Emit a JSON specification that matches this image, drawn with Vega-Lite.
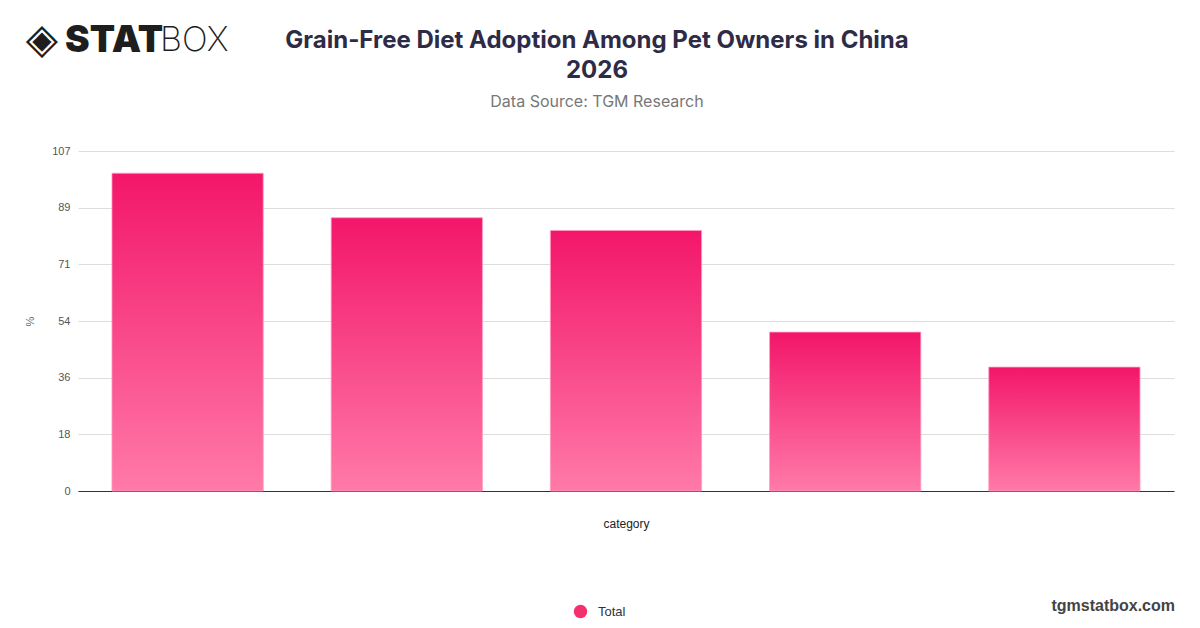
{
  "$schema": "https://vega.github.io/schema/vega-lite/v6.json",
  "width": 1096,
  "height": 340,
  "autosize": {"type": "none"},
  "padding": {"left": 78, "top": 151, "right": 26, "bottom": 137},
  "background": "white",
  "title": {
    "text": ["Grain-Free Diet Adoption Among Pet Owners in China", "2026"],
    "subtitle": "Data Source: TGM Research",
    "anchor": "middle",
    "dx": -29,
    "offset": -91,
    "font": "Inter",
    "fontSize": 24,
    "fontWeight": "bold",
    "color": "#2e2b47",
    "lineHeight": 30,
    "subtitleFont": "Inter",
    "subtitleFontSize": 16,
    "subtitleColor": "#777777",
    "subtitlePadding": 11
  },
  "config": {"view": {"stroke": null}},
  "data": {
    "values": [
      {"category": "Category 1", "value": 100},
      {"category": "Category 2", "value": 86},
      {"category": "Category 3", "value": 82},
      {"category": "Category 4", "value": 50},
      {"category": "Category 5", "value": 39}
    ]
  },
  "layer": [
    {
      "mark": {
        "type": "bar",
        "fill": {
          "gradient": "linear",
          "x1": 0, "y1": 0, "x2": 0, "y2": 1,
          "stops": [
            {"offset": 0, "color": "#f3166a"},
            {"offset": 1, "color": "#ff7aa8"}
          ]
        },
        "stroke": "#ff9cc0",
        "strokeWidth": 0.8
      },
      "encoding": {
        "x": {
          "field": "category",
          "type": "nominal",
          "sort": null,
          "title": "category",
          "scale": {"paddingInner": 0.31, "paddingOuter": 0.155},
          "axis": {
            "labels": false,
            "ticks": false,
            "domainColor": "#333333",
            "titlePadding": 27,
            "titleFont": "Liberation Sans",
            "titleFontSize": 12,
            "titleFontWeight": "normal",
            "titleColor": "#222222"
          }
        },
        "y": {
          "field": "value",
          "type": "quantitative",
          "title": "%",
          "scale": {"domain": [0, 107], "nice": false},
          "axis": {
            "values": [0, 17.833, 35.667, 53.5, 71.333, 89.167, 107],
            "format": ".0f",
            "domain": false,
            "ticks": false,
            "labelPadding": 8,
            "labelColor": "#555555",
            "labelFont": "Liberation Sans",
            "labelFontSize": 11,
            "gridColor": "#dddddd",
            "titleColor": "#666666",
            "titleFont": "Liberation Sans",
            "titleFontWeight": "normal",
            "titleFontSize": 11,
            "titlePadding": 16
          }
        },
        "tooltip": [
          {"field": "category", "type": "nominal"},
          {"field": "value", "type": "quantitative", "title": "%"}
        ]
      }
    },
    {
      "mark": {"type": "point", "filled": true, "size": 0, "shape": "circle", "opacity": 1},
      "encoding": {
        "x": {"field": "category", "type": "nominal", "sort": null},
        "y": {"field": "value", "type": "quantitative"},
        "color": {
          "datum": "Total",
          "scale": {"range": ["#f5306f"]},
          "legend": {
            "title": null,
            "orient": "none",
            "legendX": 495,
            "legendY": 453,
            "symbolType": "circle",
            "symbolSize": 180,
            "symbolOpacity": 1,
            "labelFont": "Liberation Sans",
            "labelFontSize": 13,
            "labelColor": "#333333",
            "labelOffset": 10,
            "encode": {
              "symbols": {
                "update": {
                  "fill": {
                    "value": {
                      "gradient": "linear",
                      "x1": 0, "y1": 0, "x2": 0, "y2": 1,
                      "stops": [
                        {"offset": 0, "color": "#f3166a"},
                        {"offset": 1, "color": "#ff6c9e"}
                      ]
                    }
                  },
                  "opacity": {"value": 1}
                }
              }
            }
          }
        }
      }
    },
    {
      "data": {"values": [{"t": "◈"}]},
      "mark": {"type": "text", "x": -36, "y": -111, "align": "center", "baseline": "middle", "font": "DejaVu Sans", "fontSize": 42, "color": "#1e1e1e"},
      "encoding": {"text": {"field": "t"}}
    },
    {
      "data": {"values": [{"t": "STAT"}]},
      "mark": {"type": "text", "x": -13, "y": -110, "align": "left", "baseline": "middle", "font": "Inter", "fontSize": 37, "fontWeight": 900, "color": "#1e1e1e"},
      "encoding": {"text": {"field": "t"}}
    },
    {
      "data": {"values": [{"t": "BOX"}]},
      "mark": {"type": "text", "x": 82, "y": -110, "align": "left", "baseline": "middle", "font": "Inter", "fontSize": 34, "fontWeight": 200, "color": "#1e1e1e"},
      "encoding": {"text": {"field": "t"}}
    },
    {
      "data": {"values": [{"t": "tgmstatbox.com"}]},
      "mark": {"type": "text", "x": 1097, "y": 455, "align": "right", "baseline": "middle", "font": "Liberation Sans", "fontSize": 16, "fontWeight": "bold", "color": "#444444"},
      "encoding": {"text": {"field": "t"}}
    }
  ]
}
